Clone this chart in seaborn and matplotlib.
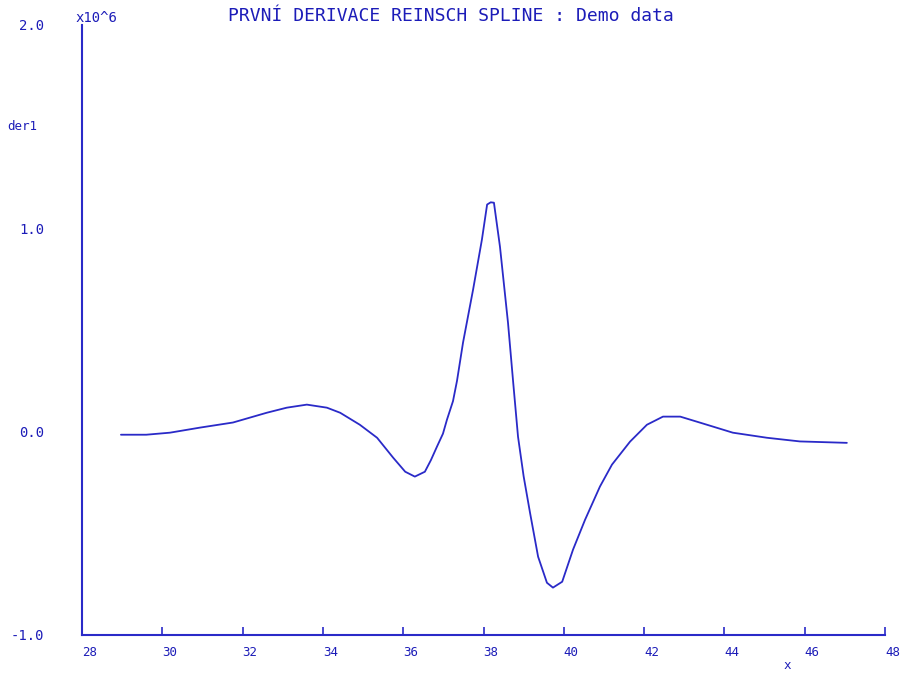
import numpy as np
import pandas as pd
import matplotlib
matplotlib.use("Agg")
import matplotlib.pyplot as plt
import seaborn as sns

# First derivative of the Reinsch smoothing spline (values in units of 10^6)
x_vals = [28.97, 29.6, 30.19, 30.94, 31.76, 32.6, 33.1, 33.6, 34.1, 34.43,
          34.92, 35.35, 35.75, 36.05, 36.29, 36.54, 36.69, 36.84, 36.99, 37.09,
          37.24, 37.34, 37.49, 37.74, 37.96, 38.09, 38.18, 38.26, 38.41, 38.61,
          38.74, 38.86, 39.0, 39.16, 39.36, 39.58, 39.73, 39.96, 40.23, 40.53,
          40.9, 41.2, 41.65, 42.07, 42.47, 42.9, 43.4, 44.21, 45.06, 45.88, 47.05]
der1_vals = [-0.015, -0.015, -0.005, 0.02, 0.045, 0.093, 0.118, 0.133, 0.118, 0.093,
             0.034, -0.03, -0.128, -0.197, -0.221, -0.197, -0.14, -0.074, -0.01, 0.059,
             0.15, 0.25, 0.438, 0.698, 0.944, 1.117, 1.128, 1.126, 0.91, 0.536,
             0.241, -0.025, -0.22, -0.4, -0.615, -0.743, -0.767, -0.738, -0.58, -0.433,
             -0.27, -0.162, -0.049, 0.034, 0.074, 0.074, 0.044, -0.005, -0.03, -0.048,
             -0.055]

x_ticks = [28, 30, 32, 34, 36, 38, 40, 42, 44, 46, 48]
y_ticks = [-1.0, 0.0, 1.0, 2.0]
y_tick_labels = ["-1.0", "0.0", "1.0", "2.0"]

title_text = "PRVNÍ DERIVACE REINSCH SPLINE : Demo data"
y_name = "der1"
x_name = "x"
scale_text = "x10^6"

BLUE = "#2a2ac8"
TXT = "#1c1cb8"

sns.set_style("white")
plt.rcParams["font.family"] = ["DejaVu Sans Mono", "DejaVu Sans"]

df = pd.DataFrame({"x": x_vals, "der1": der1_vals})

fig = plt.figure(figsize=(9.05, 6.77), dpi=100)
ax = fig.add_axes([82 / 905, 42 / 677, (885 - 82) / 905, (635 - 25) / 677])

sns.lineplot(data=df, x="x", y="der1", ax=ax, color=BLUE, linewidth=1.3,
             sort=False, estimator=None)

ax.set_xlim(28, 48)
ax.set_ylim(-1.0, 2.0)
ax.set_xlabel("")
ax.set_ylabel("")

for side in ["top", "right"]:
    ax.spines[side].set_visible(False)
for side in ["left", "bottom"]:
    ax.spines[side].set_color(BLUE)
    ax.spines[side].set_linewidth(1.5)

ax.set_xticks(x_ticks)
ax.set_xticklabels([str(t) for t in x_ticks], ha="left")
ax.tick_params(axis="x", bottom=True, direction="in", length=6, width=1.2,
               color=BLUE, labelcolor=TXT, labelsize=9, pad=8)
ax.set_yticks(y_ticks)
ax.set_yticklabels(y_tick_labels)
ax.tick_params(axis="y", left=False, length=0, labelcolor=TXT, labelsize=10,
               pad=27)

ax.text(-0.093, 1.5 / 3 + 1 / 3, y_name, transform=ax.transAxes, color=TXT,
        fontsize=9, ha="left", va="center")
ax.annotate(x_name, xy=(45.56, -1.0), xytext=(0, -22), textcoords="offset points",
            color=TXT, fontsize=9, ha="center", va="center")
ax.text(-0.008, 1.0, scale_text, transform=ax.transAxes, color=TXT,
        fontsize=10, ha="left", va="bottom")
fig.text(451 / 905, 1 - 16 / 677, title_text, color=TXT, fontsize=13,
         ha="center", va="center")

fig.savefig("out.png", dpi=100)
